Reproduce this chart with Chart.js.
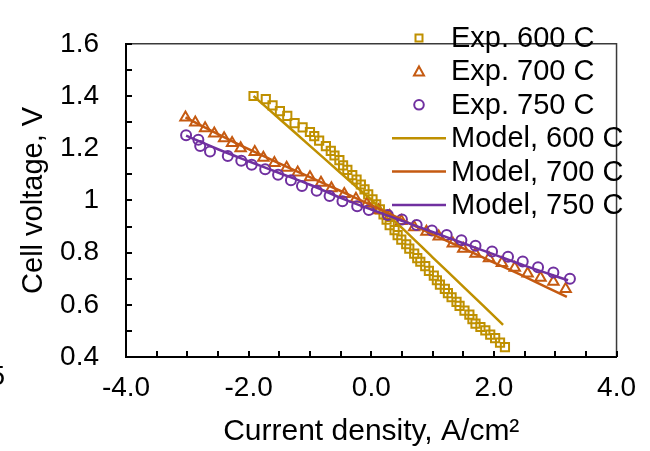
<!DOCTYPE html>
<html>
<head>
<meta charset="utf-8">
<script src="https://cdn.jsdelivr.net/npm/chart.js@4.4.1/dist/chart.umd.min.js"></script>
<style>
  html, body { margin: 0; padding: 0; background: #fff; }
  #wrap { width: 650px; height: 451px; }
</style>
</head>
<body>
<div id="wrap"><canvas id="chart" width="650" height="451"></canvas></div>
<script>
// values
const exp600Current = [-1.92, -1.72, -1.61, -1.49, -1.37, -1.25, -1.12, -1.00, -0.93, -0.85, -0.74, -0.66, -0.60, -0.52, -0.46, -0.39, -0.31, -0.24, -0.17, -0.11, -0.05, 0.02, 0.08, 0.14, 0.20, 0.25, 0.30, 0.38, 0.43, 0.49, 0.57, 0.62, 0.70, 0.75, 0.80, 0.88, 0.94, 1.02, 1.07, 1.12, 1.20, 1.25, 1.31, 1.39, 1.44, 1.52, 1.60, 1.65, 1.70, 1.78, 1.86, 1.94, 2.02, 2.10, 2.18];
const exp600Voltage = [1.400, 1.388, 1.364, 1.342, 1.324, 1.296, 1.280, 1.262, 1.246, 1.229, 1.208, 1.190, 1.172, 1.154, 1.134, 1.117, 1.097, 1.080, 1.061, 1.042, 1.023, 1.004, 0.985, 0.966, 0.946, 0.926, 0.905, 0.886, 0.867, 0.850, 0.832, 0.815, 0.796, 0.779, 0.765, 0.748, 0.730, 0.712, 0.694, 0.677, 0.661, 0.645, 0.629, 0.611, 0.596, 0.578, 0.562, 0.545, 0.528, 0.515, 0.502, 0.486, 0.472, 0.455, 0.438];

const exp700Current = [-3.03, -2.87, -2.71, -2.56, -2.40, -2.27, -2.13, -1.90, -1.76, -1.58, -1.38, -1.20, -1.00, -0.82, -0.65, -0.44, -0.25, -0.07, 0.12, 0.30, 0.49, 0.70, 0.90, 1.10, 1.33, 1.50, 1.70, 1.92, 2.13, 2.34, 2.55, 2.76, 2.97, 3.17];
const exp700Voltage = [1.318, 1.298, 1.276, 1.256, 1.238, 1.220, 1.200, 1.185, 1.163, 1.143, 1.125, 1.107, 1.089, 1.068, 1.047, 1.025, 1.006, 0.987, 0.962, 0.940, 0.921, 0.897, 0.880, 0.862, 0.835, 0.815, 0.796, 0.778, 0.760, 0.742, 0.720, 0.704, 0.688, 0.661];

const exp750Current = [-3.02, -2.82, -2.79, -2.63, -2.34, -2.12, -1.95, -1.73, -1.52, -1.31, -1.13, -0.89, -0.68, -0.47, -0.23, -0.04, 0.27, 0.50, 0.74, 0.99, 1.23, 1.47, 1.70, 1.97, 2.23, 2.47, 2.72, 2.97, 3.24];
const exp750Voltage = [1.250, 1.232, 1.208, 1.187, 1.170, 1.152, 1.137, 1.119, 1.098, 1.077, 1.055, 1.037, 1.017, 0.997, 0.978, 0.963, 0.944, 0.927, 0.906, 0.885, 0.867, 0.847, 0.826, 0.804, 0.784, 0.766, 0.744, 0.724, 0.700];

const model600Current = [-1.92, -1.5, -1.0, -0.5, 0.0, 0.5, 1.0, 1.5, 2.15];
const model600Voltage = [1.400, 1.313, 1.209, 1.105, 1.002, 0.895, 0.782, 0.670, 0.523];
const model700Current = [-3.03, -2.5, -2.0, -1.5, -1.0, -0.5, 0.0, 0.5, 1.0, 1.5, 2.0, 2.5, 3.19];
const model700Voltage = [1.318, 1.254, 1.196, 1.142, 1.089, 1.036, 0.982, 0.926, 0.870, 0.816, 0.762, 0.708, 0.630];
const model750Current = [-3.02, -2.5, -2.0, -1.5, -1.0, -0.5, 0.0, 0.5, 1.0, 1.5, 2.0, 2.5, 3.21];
const model750Voltage = [1.248, 1.196, 1.150, 1.105, 1.060, 1.010, 0.965, 0.922, 0.879, 0.836, 0.793, 0.750, 0.694];

const seriesLabels = ['Exp. 600 C', 'Exp. 700 C', 'Exp. 750 C', 'Model, 600 C', 'Model, 700 C', 'Model, 750 C'];
const xTickValues = [-4, -2, 0, 2, 4];
const xTickLabels = ['-4.0', '-2.0', '0.0', '2.0', '4.0'];
const yTickValues = [0.4, 0.6, 0.8, 1.0, 1.2, 1.4, 1.6];
const yTickLabels = ['0.4', '0.6', '0.8', '1', '1.2', '1.4', '1.6'];

const gold = '#BF9000';
const orange = '#C55A11';
const purple = '#7030A0';
const FONT = "'Liberation Sans', Arial, sans-serif";

const toPoints = (xs, ys) => xs.map((x, i) => ({ x: x, y: ys[i] }));

function expSet(label, xs, ys, color, style, radius, order) {
    return {
        label: label,
        data: toPoints(xs, ys),
        showLine: false,
        pointStyle: style,
        pointRadius: radius,
        pointBorderWidth: 2,
        pointBorderColor: color,
        pointBackgroundColor: 'rgba(0,0,0,0)',
        borderColor: color,
        order: order
    };
}

function modelSet(label, xs, ys, color, order) {
    return {
        label: label,
        data: toPoints(xs, ys),
        showLine: true,
        borderColor: color,
        borderWidth: 2.5,
        pointRadius: 0,
        tension: 0.3,
        order: order
    };
}

// inward ticks, top/right frame, hand drawn legend inside the plot
const decorations = {
    id: 'decorations',
    afterDraw(chart) {
        const ctx = chart.ctx;
        const xs = chart.scales.x, ys = chart.scales.y;
        const a = chart.chartArea;
        ctx.save();

        ctx.strokeStyle = '#3a3a3a';
        ctx.lineWidth = 1.5;
        ctx.beginPath();
        ctx.moveTo(a.left, a.top);
        ctx.lineTo(a.right, a.top);
        ctx.lineTo(a.right, a.bottom);
        ctx.stroke();

        ctx.strokeStyle = '#000';
        ctx.lineWidth = 2;
        ctx.beginPath();
        for (let v = -4; v <= 4.001; v += 0.5) {
            const px = Math.round(xs.getPixelForValue(v));
            ctx.moveTo(px, a.bottom);
            ctx.lineTo(px, a.bottom - 6);
        }
        for (let v = 0.4; v <= 1.601; v += 0.1) {
            const py = Math.round(ys.getPixelForValue(v));
            ctx.moveTo(a.left, py);
            ctx.lineTo(a.left + 6, py);
        }
        ctx.stroke();

        // legend
        const textX = 451, markX = 419, top = 38, step = 33.4;
        ctx.font = '29px ' + FONT;
        ctx.textBaseline = 'middle';
        ctx.textAlign = 'left';
        chart.data.datasets.forEach((ds, i) => {
            const y = top + i * step;
            const color = ds.borderColor;
            ctx.strokeStyle = color;
            if (ds.showLine) {
                ctx.lineWidth = 2.5;
                ctx.beginPath();
                ctx.moveTo(392, y);
                ctx.lineTo(446, y);
                ctx.stroke();
            } else {
                ctx.lineWidth = 2;
                ctx.beginPath();
                if (ds.pointStyle === 'rect') {
                    ctx.rect(markX - 3.5, y - 3.5, 7, 7);
                } else if (ds.pointStyle === 'triangle') {
                    ctx.moveTo(markX, y - 5);
                    ctx.lineTo(markX + 5, y + 4);
                    ctx.lineTo(markX - 5, y + 4);
                    ctx.closePath();
                } else {
                    ctx.arc(markX, y, 4.8, 0, Math.PI * 2);
                }
                ctx.stroke();
            }
            ctx.fillStyle = '#000';
            ctx.fillText(ds.label, textX, y + 1);
        });

        // clipped glyph at the left edge of the picture
        ctx.textAlign = 'right';
        ctx.font = '28px ' + FONT;
        ctx.fillText('5', 5, 377);
        ctx.restore();
    }
};

const datasets = [
    expSet(seriesLabels[0], exp600Current, exp600Voltage, gold, 'rect', 5.8, 6),
    expSet(seriesLabels[1], exp700Current, exp700Voltage, orange, 'triangle', 6, 5),
    expSet(seriesLabels[2], exp750Current, exp750Voltage, purple, 'circle', 5, 4),
    modelSet(seriesLabels[3], model600Current, model600Voltage, gold, 3),
    modelSet(seriesLabels[4], model700Current, model700Voltage, orange, 2),
    modelSet(seriesLabels[5], model750Current, model750Voltage, purple, 1)
];

new Chart(document.getElementById('chart'), {
    type: 'scatter',
    data: { datasets: datasets },
    options: {
        responsive: false,
        animation: false,
        layout: { padding: { top: 22, right: 22, left: 0, bottom: 0 } },
        plugins: {
            legend: { display: false },
            tooltip: { enabled: false }
        },
        scales: {
            x: {
                type: 'linear',
                min: -4,
                max: 4,
                afterBuildTicks: s => { s.ticks = xTickValues.map(v => ({ value: v })); },
                afterFit: s => { s.height = 94; },
                grid: { display: false, drawTicks: false },
                border: { display: true, color: '#000', width: 2 },
                ticks: {
                    color: '#000',
                    font: { family: FONT, size: 28 },
                    padding: 14,
                    maxRotation: 0,
                    callback: (v, i) => xTickLabels[i]
                },
                title: {
                    display: true,
                    text: 'Current density, A/cm²',
                    color: '#000',
                    font: { family: FONT, size: 30, lineHeight: 1 },
                    padding: { top: 0, bottom: 4 }
                }
            },
            y: {
                type: 'linear',
                min: 0.4,
                max: 1.6,
                afterBuildTicks: s => { s.ticks = yTickValues.map(v => ({ value: v })); },
                afterFit: s => { s.width = 126; },
                grid: { display: false, drawTicks: false },
                border: { display: true, color: '#000', width: 2 },
                ticks: {
                    color: '#000',
                    font: { family: FONT, size: 28 },
                    padding: 27,
                    callback: (v, i) => yTickLabels[i]
                },
                title: {
                    display: true,
                    text: 'Cell voltage, V',
                    color: '#000',
                    font: { family: FONT, size: 29, lineHeight: 1 },
                    padding: { top: 19, bottom: 0 }
                }
            }
        }
    },
    plugins: [decorations]
});
</script>
</body>
</html>
